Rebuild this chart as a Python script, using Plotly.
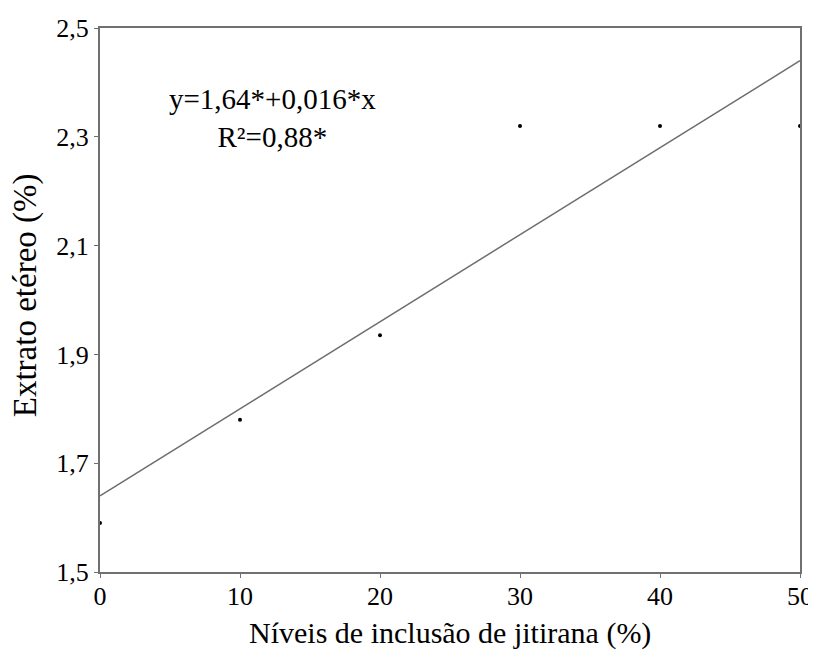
import plotly.graph_objects as go

niveis = [0, 10, 20, 30, 40, 50]
extrato = [1.59, 1.78, 1.935, 2.32, 2.32, 2.32]
intercepto = 1.64
inclinacao = 0.016
x_ticks = [0, 10, 20, 30, 40, 50]
y_ticks = [1.5, 1.7, 1.9, 2.1, 2.3, 2.5]
y_tick_labels = ["1,5", "1,7", "1,9", "2,1", "2,3", "2,5"]

fit_x = [0, 50]
fit_y = [intercepto + inclinacao * v for v in fit_x]

font_fam = "Liberation Serif, Times New Roman, serif"
fig = go.Figure()
fig.add_trace(go.Scatter(x=fit_x, y=fit_y, mode="lines",
                         line=dict(color="#6e6e6e", width=1.5), showlegend=False))
fig.add_trace(go.Scatter(x=niveis, y=extrato, mode="markers",
                         marker=dict(color="black", size=4), showlegend=False,
                         cliponaxis=False))

fig.update_layout(
    width=816, height=650,
    margin=dict(l=92, r=24, t=20, b=86),
    paper_bgcolor="white", plot_bgcolor="white",
    font=dict(family=font_fam, color="black", size=26),
    xaxis=dict(range=[0, 50], tickvals=x_ticks, showgrid=False, zeroline=False,
               automargin=False,
               showline=True, linecolor="#707070", linewidth=2, mirror=True,
               ticks="outside", ticklen=4, tickcolor="#707070",
               tickfont=dict(size=26), ticklabelstandoff=-4),
    yaxis=dict(range=[1.5, 2.5], tickvals=y_ticks, ticktext=y_tick_labels,
               showgrid=False, zeroline=False, automargin=False,
               showline=True, linecolor="#707070", linewidth=2, mirror=True,
               ticks="outside", ticklen=4, tickcolor="#707070",
               tickfont=dict(size=26)),
    annotations=[
        dict(x=0.247, y=0.835, xref="paper", yref="paper", showarrow=False,
             xanchor="center", yanchor="middle",
             text="y=1,64*+0,016*x<br>R²=0,88*", align="center",
             font=dict(size=29, family=font_fam, color="black")),
        dict(x=0.5, y=-61 / 544, xref="paper", yref="paper", showarrow=False,
             xanchor="center", yanchor="middle",
             text="Níveis de inclusão de jitirana (%)",
             font=dict(size=30, family=font_fam, color="black")),
        dict(x=-0.107, y=0.509, xref="paper", yref="paper", showarrow=False,
             xanchor="center", yanchor="middle", textangle=-90,
             text="Extrato etéreo (%)",
             font=dict(size=33, family=font_fam, color="black")),
    ],
)
fig.write_html("out.html")
